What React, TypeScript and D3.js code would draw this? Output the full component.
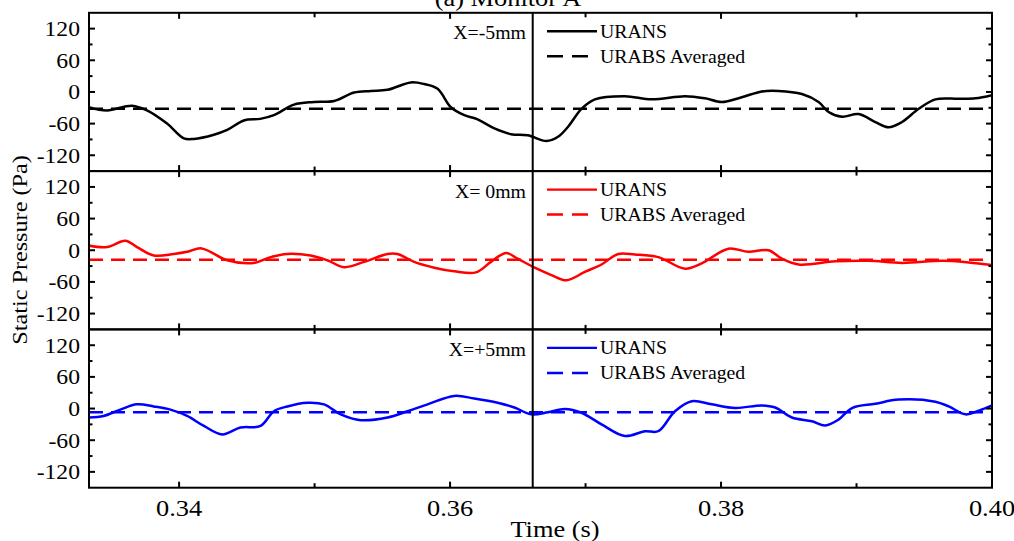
import React from "react";
import * as d3 from "d3";

// Static pressure traces at the three probe positions (time in s, pressure in Pa)
const timeMinus5 = [0.3333, 0.33468, 0.33652, 0.33763, 0.33911, 0.34035, 0.34109, 0.34257, 0.34355, 0.34478, 0.34599, 0.347, 0.34848, 0.34996, 0.35144, 0.35292, 0.35415, 0.35538, 0.3571, 0.35809, 0.35908, 0.36006, 0.36105, 0.36203, 0.36327, 0.3645, 0.36573, 0.36711, 0.36797, 0.36871, 0.3697, 0.37069, 0.3729, 0.37488, 0.37734, 0.37882, 0.38005, 0.38153, 0.38301, 0.38424, 0.38597, 0.3872, 0.38794, 0.38893, 0.39015, 0.39139, 0.39237, 0.39336, 0.39459, 0.39582, 0.39755, 0.39878, 0.4];
const pressMinus5 = [-29, -35, -26, -35, -60, -88, -89, -81, -72, -54, -51, -44, -24, -19, -17, -1, 2, 4, 18, 15, 6, -29, -44, -52, -69, -80, -82, -93, -85, -66, -32, -14, -8, -14, -8, -12, -19, -10, 1, 2, -4, -19, -38, -47, -42, -57, -67, -57, -32, -14, -13, -12, -6];

const timeZero = [0.3333, 0.33468, 0.33603, 0.33689, 0.33813, 0.33961, 0.34059, 0.34157, 0.34231, 0.34355, 0.34552, 0.34675, 0.34799, 0.34971, 0.35094, 0.35218, 0.35366, 0.35538, 0.35612, 0.35735, 0.35883, 0.36031, 0.36191, 0.36302, 0.36413, 0.36499, 0.36625, 0.36748, 0.36859, 0.36995, 0.37118, 0.37241, 0.37364, 0.37537, 0.37734, 0.37857, 0.38054, 0.38202, 0.3835, 0.38449, 0.38572, 0.38843, 0.39089, 0.39336, 0.39632, 0.39829, 0.4];
const pressZero = [9, 6, 18, 6, -10, -7, -3, 4, -3, -19, -24, -13, -7, -10, -19, -32, -22, -7, -7, -22, -33, -40, -42, -22, -5, -16, -33, -47, -57, -41, -27, -7, -8, -13, -35, -25, 3, -3, 0, -16, -27, -21, -20, -24, -20, -23, -28];

const timePlus5 = [0.3333, 0.33443, 0.33566, 0.33689, 0.33813, 0.33936, 0.34059, 0.34183, 0.34318, 0.34453, 0.34601, 0.347, 0.34799, 0.34946, 0.3507, 0.35193, 0.35341, 0.35538, 0.35686, 0.35834, 0.36031, 0.36179, 0.36351, 0.36475, 0.36598, 0.36723, 0.36847, 0.3697, 0.37118, 0.3729, 0.37438, 0.37537, 0.3766, 0.37784, 0.37931, 0.38104, 0.38301, 0.384, 0.38523, 0.38671, 0.38769, 0.38867, 0.38967, 0.39139, 0.39311, 0.39582, 0.39681, 0.39804, 0.39903, 0.4];
const pressPlus5 = [-17, -14, -2, 8, 4, -2, -14, -33, -49, -36, -33, -5, 4, 11, 8, -11, -22, -17, -5, 8, 24, 19, 11, 2, -11, -7, -1, -8, -30, -52, -43, -43, -5, 14, 8, 1, 6, 2, -17, -24, -32, -21, 1, 9, 17, 13, 4, -11, -4, 6];

// Time-averaged pressure at each position
const averagedValues = [-32, -18, -7];
const panelLabels = ["X=-5mm", "X= 0mm", "X=+5mm"];
const panelColors = ["#000000", "#ff0000", "#0000ff"];

const yTicks = [120, 60, 0, -60, -120];
const yMinorTicks = [90, 30, -30, -90];
const xTicks = [0.34, 0.36, 0.38, 0.4];
const xMinorTicks = [0.35, 0.37, 0.39];
const markerTime = 0.3661;

const W = 1014;
const H = 541;
const left = 89;
const right = 992;
const top0 = 12.8;
const panelH = 158.3;
const font = "'Liberation Serif', 'Times New Roman', serif";
const sx = 1.1; // glyph width factor

const series = [
  { t: timeMinus5, p: pressMinus5 },
  { t: timeZero, p: pressZero },
  { t: timePlus5, p: pressPlus5 },
];

function Txt({ x, y, size, anchor = "start", children, rotate = 0 }: any) {
  const tr = rotate
    ? `translate(${x},${y}) rotate(${rotate}) scale(${sx},1)`
    : `translate(${x},${y}) scale(${sx},1)`;
  return (
    <text transform={tr} fontSize={size} textAnchor={anchor} fontFamily={font} fill="#000">
      {children}
    </text>
  );
}

export default function App() {
  const x = d3.scaleLinear().domain([0.33335, 0.4]).range([left, right]);

  return (
    <svg width={W} height={H} style={{ position: "absolute", left: 0, top: 0, background: "#fff" }}>
      <rect width={W} height={H} fill="#fff" />
      <Txt x={508} y={6} size={24} anchor="middle">(a) Monitor A</Txt>

      {series.map((s, i) => {
        const top = top0 + i * panelH;
        const bottom = top + panelH;
        const y = d3.scaleLinear().domain([-150, 150]).range([bottom, top]);
        const pts = s.t.map((t, k) => [t, s.p[k]] as [number, number]);
        const line = d3
          .line<[number, number]>()
          .x((d) => x(d[0]))
          .y((d) => y(d[1]))
          .curve(d3.curveCatmullRom.alpha(0.5));
        const color = panelColors[i];
        const legY = top + 18.5;
        return (
          <g key={i}>
            <defs>
              <clipPath id={`clip${i}`}>
                <rect x={left} y={top} width={right - left} height={panelH} />
              </clipPath>
            </defs>
            <g clipPath={`url(#clip${i})`}>
              <line
                x1={left}
                x2={right}
                y1={y(averagedValues[i])}
                y2={y(averagedValues[i])}
                stroke={color}
                strokeWidth={2.5}
                strokeDasharray="14 8"
              />
              <path d={line(pts) ?? ""} fill="none" stroke={color} strokeWidth={2.5} strokeLinejoin="round" />
            </g>
            <rect x={left} y={top} width={right - left} height={panelH} fill="none" stroke="#000" strokeWidth={2} />
            {yTicks.map((v) => (
              <g key={v}>
                <line x1={left} x2={left + 6} y1={y(v)} y2={y(v)} stroke="#000" strokeWidth={2} />
                <line x1={right} x2={right - 6} y1={y(v)} y2={y(v)} stroke="#000" strokeWidth={2} />
                <Txt x={80} y={y(v) + 7.5} size={21.5} anchor="end">{v}</Txt>
              </g>
            ))}
            {yMinorTicks.map((v) => (
              <g key={v}>
                <line x1={left} x2={left + 3.5} y1={y(v)} y2={y(v)} stroke="#000" strokeWidth={2} />
                <line x1={right} x2={right - 3.5} y1={y(v)} y2={y(v)} stroke="#000" strokeWidth={2} />
              </g>
            ))}
            {xTicks.concat(xMinorTicks).map((t) => {
              const len = xMinorTicks.includes(t) ? 4.5 : 6;
              return (
                <g key={t}>
                  <line x1={x(t)} x2={x(t)} y1={top} y2={top + len} stroke="#000" strokeWidth={2} />
                  <line x1={x(t)} x2={x(t)} y1={bottom} y2={bottom - len} stroke="#000" strokeWidth={2} />
                </g>
              );
            })}
            <Txt x={526} y={top + 26.5} size={18} anchor="end">{panelLabels[i]}</Txt>
            <line x1={547} x2={597} y1={legY} y2={legY} stroke={color} strokeWidth={2.4} />
            <line x1={547} x2={597} y1={legY + 25} y2={legY + 25} stroke={color} strokeWidth={2.5} strokeDasharray="16 9" />
            <Txt x={600} y={legY + 6.5} size={18}>URANS</Txt>
            <Txt x={600} y={legY + 31.5} size={18}>URABS Averaged</Txt>
          </g>
        );
      })}

      <line x1={x(markerTime)} x2={x(markerTime)} y1={top0} y2={top0 + 3 * panelH} stroke="#000" strokeWidth={2} />

      {xTicks.map((t) => (
        <Txt key={t} x={x(t)} y={516} size={24} anchor="middle">
          {t.toFixed(2)}
        </Txt>
      ))}
      <Txt x={555} y={537} size={24} anchor="middle">Time (s)</Txt>
      <Txt x={27} y={250} size={22} anchor="middle" rotate={-90}>Static Pressure (Pa)</Txt>
    </svg>
  );
}
